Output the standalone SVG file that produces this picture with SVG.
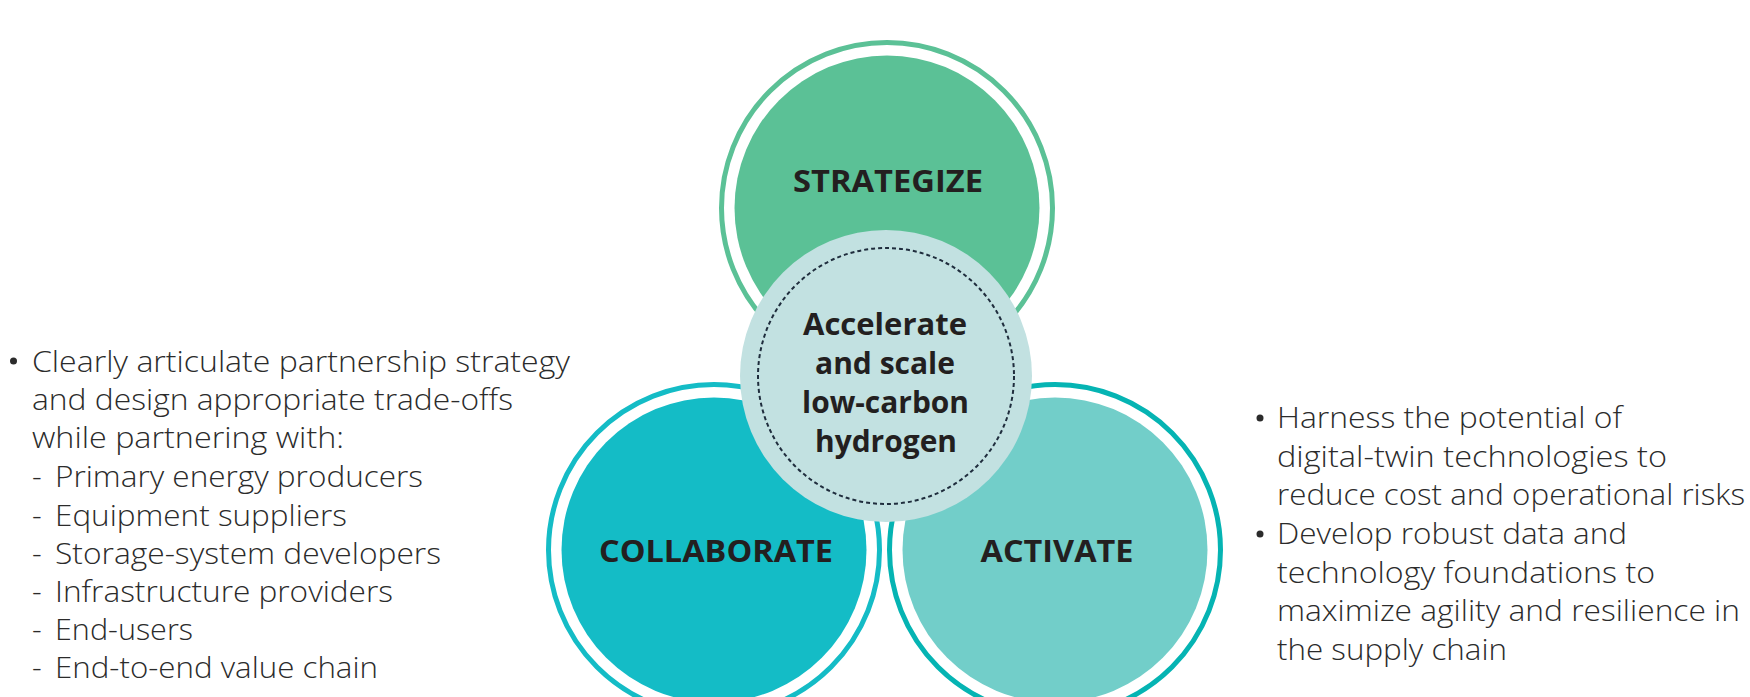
<svg xmlns="http://www.w3.org/2000/svg" width="1750" height="697" viewBox="0 0 1750 697">
<style>
.ring{fill:none;stroke-width:5}
.lbl{font-family:"Open Sans","Noto Sans","Liberation Sans",sans-serif;font-weight:700;font-size:31px;fill:#231f20;text-anchor:middle}
.body{font-family:"Open Sans","Noto Sans","Liberation Sans",sans-serif;font-weight:300;font-size:30px;fill:#2b2b2b}
.dot{fill:#2b2b2b}
</style>
<rect width="1750" height="697" fill="#ffffff"/>
<g id="connectors"/>
<g id="strategize">
<circle class="ring" cx="887" cy="208" r="165.5" stroke="#5bc196"/>
<circle cx="887" cy="208" r="152.5" fill="#5bc196"/>
<text class="lbl" x="888" y="192" textLength="190" lengthAdjust="spacingAndGlyphs">STRATEGIZE</text>
</g>
<g id="collaborate">
<circle class="ring" cx="714" cy="550" r="165.5" stroke="#14bcc6"/>
<circle cx="714" cy="550" r="152.5" fill="#14bcc6"/>
<text class="lbl" x="716" y="562" textLength="234" lengthAdjust="spacingAndGlyphs">COLLABORATE</text>
</g>
<g id="activate">
<circle class="ring" cx="1055" cy="550" r="165.5" stroke="#05b4b3"/>
<circle cx="1055" cy="550" r="152.5" fill="#72cec9"/>
<text class="lbl" x="1057" y="562" textLength="153" lengthAdjust="spacingAndGlyphs">ACTIVATE</text>
</g>
<g id="center">
<circle cx="886" cy="376" r="146" fill="#c2e1e1"/>
<circle cx="886" cy="376" r="128" fill="none" stroke="#1f2d3d" stroke-width="2" stroke-dasharray="4 3"/>
<text class="lbl" x="885" y="335" textLength="164" lengthAdjust="spacingAndGlyphs">Accelerate</text>
<text class="lbl" x="885" y="374" textLength="140" lengthAdjust="spacingAndGlyphs">and scale</text>
<text class="lbl" x="885.5" y="413" textLength="167" lengthAdjust="spacingAndGlyphs">low-carbon</text>
<text class="lbl" x="886" y="452" textLength="142" lengthAdjust="spacingAndGlyphs">hydrogen</text>
</g>
<g id="left-text" class="body">
<circle class="dot" cx="13.5" cy="361" r="3.5"/>
<text x="32" y="372" textLength="538" lengthAdjust="spacingAndGlyphs">Clearly articulate partnership strategy</text>
<text x="32" y="410" textLength="481" lengthAdjust="spacingAndGlyphs">and design appropriate trade-offs</text>
<text x="32" y="448" textLength="312" lengthAdjust="spacingAndGlyphs">while partnering with:</text>
<text x="32" y="487">-</text>
<text x="55" y="487" textLength="368" lengthAdjust="spacingAndGlyphs">Primary energy producers</text>
<text x="32" y="525.5">-</text>
<text x="55" y="525.5" textLength="292" lengthAdjust="spacingAndGlyphs">Equipment suppliers</text>
<text x="32" y="563.5">-</text>
<text x="55" y="563.5" textLength="386" lengthAdjust="spacingAndGlyphs">Storage-system developers</text>
<text x="32" y="602">-</text>
<text x="55" y="602" textLength="338" lengthAdjust="spacingAndGlyphs">Infrastructure providers</text>
<text x="32" y="640">-</text>
<text x="55" y="640" textLength="138" lengthAdjust="spacingAndGlyphs">End-users</text>
<text x="32" y="678">-</text>
<text x="55" y="678" textLength="323" lengthAdjust="spacingAndGlyphs">End-to-end value chain</text>
</g>
<g id="right-text" class="body">
<circle class="dot" cx="1260" cy="418" r="3.5"/>
<text x="1277" y="428" textLength="345" lengthAdjust="spacingAndGlyphs">Harness the potential of</text>
<text x="1277" y="467" textLength="390" lengthAdjust="spacingAndGlyphs">digital-twin technologies to</text>
<text x="1277" y="505" textLength="468" lengthAdjust="spacingAndGlyphs">reduce cost and operational risks</text>
<circle class="dot" cx="1260" cy="534" r="3.5"/>
<text x="1277" y="544" textLength="350" lengthAdjust="spacingAndGlyphs">Develop robust data and</text>
<text x="1277" y="583" textLength="378" lengthAdjust="spacingAndGlyphs">technology foundations to</text>
<text x="1277" y="621" textLength="463" lengthAdjust="spacingAndGlyphs">maximize agility and resilience in</text>
<text x="1277" y="660" textLength="230" lengthAdjust="spacingAndGlyphs">the supply chain</text>
</g>
</svg>
